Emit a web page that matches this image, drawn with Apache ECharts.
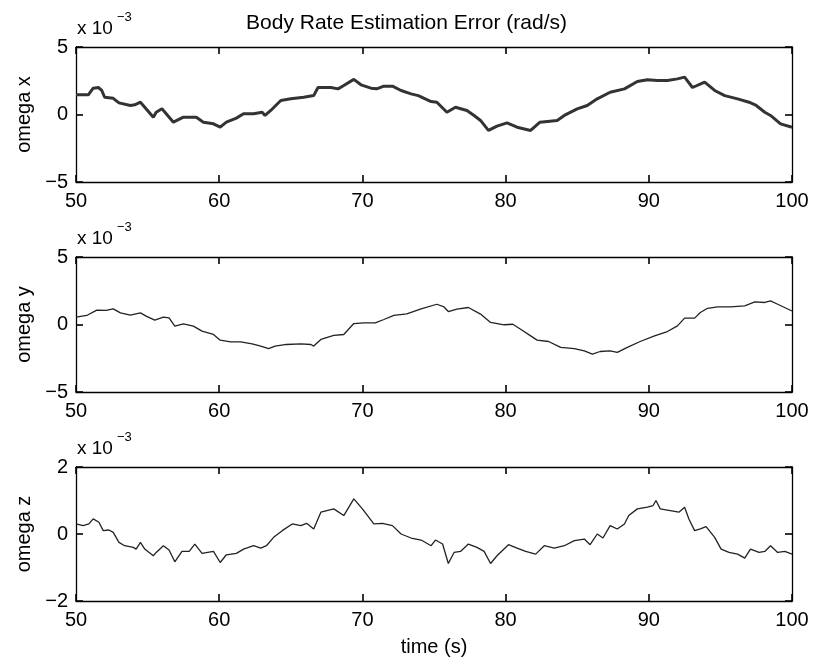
<!DOCTYPE html>
<html><head><meta charset="utf-8">
<script src="https://cdn.jsdelivr.net/npm/echarts@6/dist/echarts.min.js"></script>
<style>html,body{margin:0;padding:0;background:#fff}#c{width:813px;height:662px}</style>
</head><body><div id="c"></div>
<script>
// values in units of 1e-3 rad/s
const tX = [50,50.86,51.2,51.56,51.8,52.0,52.6,53.0,53.8,54.1,54.5,54.8,55.4,55.6,56.0,56.3,56.8,57.5,58.4,58.9,59.6,60.07,60.5,61.2,61.7,62.4,63.0,63.2,63.6,64.3,65.0,65.9,66.6,66.9,67.8,68.3,68.7,69.4,69.9,70.6,71.0,71.5,72.1,72.7,73.4,73.9,74.8,75.2,75.9,76.5,77.3,77.8,78.25,78.8,79.4,80.1,80.8,81.75,82.4,83.6,84.1,85.0,85.7,86.4,87.3,88.3,89.2,89.9,90.6,91.3,92.0,92.5,93.05,93.9,94.6,95.3,96.2,97.0,97.5,98.1,98.5,99.2,100];
const omegaX = [1.46,1.46,1.95,2.0,1.78,1.28,1.2,0.86,0.67,0.72,0.91,0.54,-0.2,0.17,0.42,0.05,-0.57,-0.2,-0.2,-0.57,-0.69,-0.94,-0.57,-0.27,0.05,0.05,0.17,-0.07,0.3,1.04,1.16,1.28,1.4,2.0,2.0,1.9,2.15,2.6,2.2,1.95,1.9,2.1,2.1,1.78,1.53,1.4,0.96,0.91,0.17,0.54,0.3,-0.07,-0.44,-1.18,-0.86,-0.62,-0.94,-1.18,-0.57,-0.44,-0.07,0.42,0.67,1.16,1.65,1.9,2.44,2.57,2.52,2.52,2.64,2.77,2.0,2.4,1.78,1.4,1.16,0.91,0.67,0.17,-0.07,-0.69,-0.94];

const tY = [50,50.75,51.45,52.1,52.6,53.1,53.8,54.5,54.9,55.5,56.1,56.5,56.9,57.5,58.2,58.8,59.6,60.07,60.8,61.5,62.3,62.9,63.45,63.9,64.7,65.7,66.4,66.6,67.1,68.0,68.7,69.4,70.1,70.9,71.5,72.2,73.1,74.1,75.2,75.7,76.0,76.6,77.4,78.25,78.95,79.9,80.5,81.05,81.75,82.2,83.0,83.85,84.8,85.5,86.06,86.6,87.3,87.8,88.5,89.4,90.4,91.3,92.0,92.5,93.2,93.6,94.1,94.8,95.7,96.7,97.4,98.1,98.5,99.0,100];
const omegaY = [0.54,0.67,1.06,1.04,1.16,0.86,0.69,0.86,0.62,0.32,0.54,0.49,-0.12,0.05,-0.12,-0.49,-0.74,-1.16,-1.28,-1.28,-1.43,-1.6,-1.78,-1.6,-1.48,-1.43,-1.48,-1.6,-1.11,-0.81,-0.74,0.07,0.12,0.12,0.37,0.67,0.79,1.16,1.5,1.3,0.96,1.14,1.26,0.77,0.15,-0.02,0.02,-0.35,-0.84,-1.16,-1.26,-1.7,-1.78,-1.95,-2.2,-2.0,-1.95,-2.07,-1.7,-1.26,-0.84,-0.52,-0.1,0.47,0.47,0.89,1.2,1.3,1.3,1.38,1.68,1.63,1.75,1.5,1.0];

const tZ = [50,50.5,50.9,51.2,51.6,51.9,52.3,52.6,53.0,53.4,54.0,54.2,54.5,54.8,55.4,55.6,56.1,56.5,56.9,57.4,57.9,58.3,58.8,59.6,60.07,60.5,61.2,61.7,62.4,62.9,63.3,63.8,64.4,65.1,65.7,66.1,66.6,67.1,68.0,68.7,69.4,70.0,70.8,71.4,72.1,72.7,73.4,74.1,74.8,75.1,75.6,76.0,76.4,76.85,77.4,78.0,78.5,78.95,79.4,80.2,80.8,81.4,82.1,82.7,83.4,84.1,84.8,85.5,85.9,86.4,86.8,87.3,87.8,88.3,88.6,89.2,89.9,90.3,90.5,90.8,91.5,92.1,92.5,92.8,93.2,93.6,94.0,94.6,95.05,95.6,96.2,96.7,97.1,97.7,98.1,98.5,99.0,99.5,100];
const omegaZ = [0.3,0.25,0.3,0.45,0.35,0.1,0.12,0.05,-0.25,-0.35,-0.4,-0.45,-0.25,-0.45,-0.65,-0.55,-0.35,-0.48,-0.83,-0.52,-0.52,-0.3,-0.58,-0.52,-0.85,-0.62,-0.58,-0.45,-0.35,-0.42,-0.35,-0.1,0.1,0.3,0.25,0.32,0.15,0.65,0.75,0.55,1.05,0.75,0.3,0.32,0.25,0.0,-0.12,-0.18,-0.35,-0.18,-0.3,-0.88,-0.55,-0.52,-0.3,-0.4,-0.52,-0.88,-0.65,-0.32,-0.42,-0.52,-0.6,-0.35,-0.42,-0.35,-0.2,-0.15,-0.32,0.0,-0.12,0.25,0.15,0.3,0.55,0.75,0.8,0.85,1.0,0.75,0.7,0.65,0.8,0.45,0.1,0.15,0.22,-0.1,-0.45,-0.55,-0.6,-0.72,-0.45,-0.55,-0.52,-0.35,-0.55,-0.52,-0.6];

const yNames = ['omega x','omega y','omega z'];
const yLim = [[-5,5,5],[-5,5,5],[-2,2,2]];
const xLim = [50,100,10];
const titleText = 'Body Rate Estimation Error (rad/s)';
const xName = 'time (s)';

const FONT = 'Liberation Sans, Arial, sans-serif';
const grids = [
  {left:76, top:47, width:716, height:135},
  {left:76, top:257, width:716, height:135},
  {left:76, top:467, width:716, height:134}
];
const axLine = {show:true, onZero:false, lineStyle:{color:'#000', width:1.3}};
const tick = () => ({show:true, inside:true, length:7, lineStyle:{color:'#000', width:1.6}});
const fmt = v => String(v).replace('-', '\u2212');
const xAxis = [], yAxis = [], series = [], graphic = [];
const sets = [[tX,omegaX],[tY,omegaY],[tZ,omegaZ]];
for (let i=0;i<3;i++){
  xAxis.push({type:'value', gridIndex:i, min:xLim[0], max:xLim[1], interval:xLim[2], position:'bottom',
    axisLine:axLine, axisTick:tick(), splitLine:{show:false},
    axisLabel:{color:'#000', fontSize:20, fontFamily:FONT, margin:9},
    name: i===2 ? xName : '', nameLocation:'middle', nameGap:36,
    nameTextStyle:{color:'#000', fontSize:20, fontFamily:FONT}});
  xAxis.push({type:'value', gridIndex:i, min:xLim[0], max:xLim[1], interval:xLim[2], position:'top',
    axisLine:axLine, axisTick:tick(), axisLabel:{show:false}, splitLine:{show:false}});
  yAxis.push({type:'value', gridIndex:i, min:yLim[i][0], max:yLim[i][1], interval:yLim[i][2], position:'left',
    axisLine:axLine, axisTick:tick(), splitLine:{show:false},
    axisLabel:{color:'#000', fontSize:20, fontFamily:FONT, margin:8, formatter:fmt},
    name:yNames[i], nameLocation:'middle', nameGap:41, nameRotate:90,
    nameTextStyle:{color:'#000', fontSize:20, fontFamily:FONT}});
  yAxis.push({type:'value', gridIndex:i, min:yLim[i][0], max:yLim[i][1], interval:yLim[i][2], position:'right',
    axisLine:axLine, axisTick:tick(), axisLabel:{show:false}, splitLine:{show:false}});
  const [t,v] = sets[i];
  series.push({type:'line', xAxisIndex:2*i, yAxisIndex:2*i, showSymbol:false, symbol:'none',
    data:t.map((x,k)=>[x,v[k]]),
    lineStyle:{color: i===0 ? '#333' : '#222', width: i===0 ? 3 : 1.3}});
  graphic.push({type:'text', left:77, top:grids[i].top-28,
    style:{text:'x 10', fontSize:19, fontFamily:FONT, fill:'#000'}});
  graphic.push({type:'text', left:117, top:grids[i].top-36,
    style:{text:'\u22123', fontSize:13, fontFamily:FONT, fill:'#000'}});
}
const chart = echarts.init(document.getElementById('c'));
chart.setOption({
  animation:false,
  backgroundColor:'#fff',
  title:{text:titleText, left:'center', top:8, textStyle:{color:'#000', fontSize:21, fontWeight:'normal', fontFamily:FONT}},
  grid:grids, xAxis, yAxis, series, graphic
});
</script></body></html>
